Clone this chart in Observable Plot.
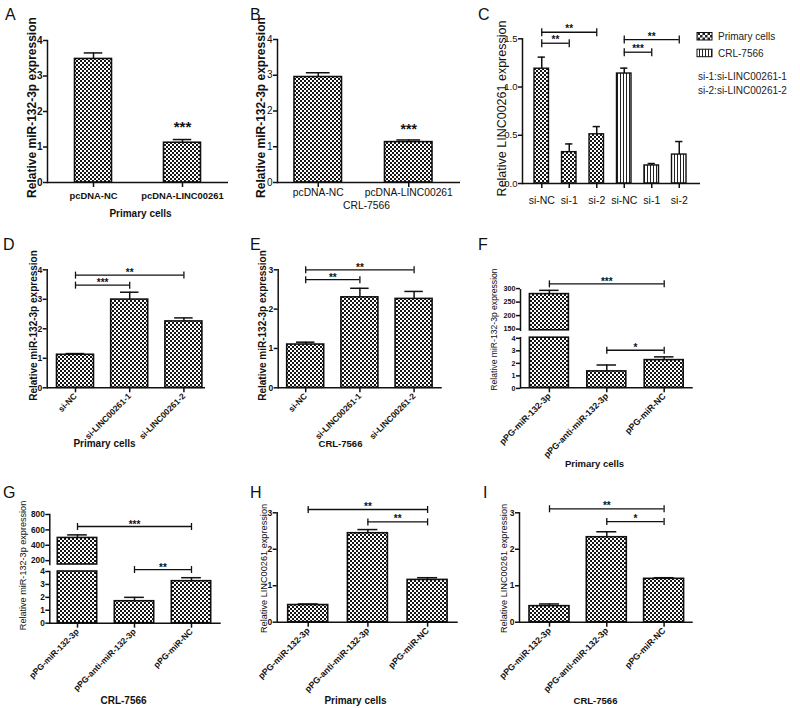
<!DOCTYPE html>
<html><head><meta charset="utf-8">
<script src="https://cdn.jsdelivr.net/npm/d3@7"></script>
<script src="https://cdn.jsdelivr.net/npm/@observablehq/plot@0.6"></script>
<style>
html,body{margin:0;padding:0;background:#fff;}
#fig{position:relative;width:800px;height:708px;overflow:hidden;background:#fff;}
.p{position:absolute;}
</style></head><body>
<svg width="0" height="0" style="position:absolute">
  <defs>
    <pattern id="checker" width="4" height="4" patternUnits="userSpaceOnUse">
      <rect width="4" height="4" fill="#fff"/>
      <rect width="2" height="2" fill="#151515"/>
      <rect x="2" y="2" width="2" height="2" fill="#151515"/>
    </pattern>
    <pattern id="checkerL" width="5" height="5" patternUnits="userSpaceOnUse">
      <rect width="5" height="5" fill="#fff"/>
      <rect width="2.5" height="2.5" fill="#222"/>
      <rect x="2.5" y="2.5" width="2.5" height="2.5" fill="#222"/>
    </pattern>
    <pattern id="vstripe" width="3" height="3" patternUnits="userSpaceOnUse">
      <rect width="3" height="3" fill="#fff"/>
      <rect width="1" height="3" fill="#222"/>
    </pattern>
  </defs>
</svg>
<div id="fig"></div>
<script>
// ================= DATA =================
// A
const aCats = ["pcDNA-NC", "pcDNA-LINC00261"];
const aMeans = [3.48, 1.12];
const aErrs = [0.17, 0.09];
const aStars = ["", "***"];
// B
const bCats = ["pcDNA-NC", "pcDNA-LINC00261"];
const bMeans = [2.95, 1.13];
const bErrs = [0.12, 0.06];
const bStars = ["", "***"];
// C
const cCats = ["si-NC", "si-1", "si-2"];
const cGroups = ["Primary cells", "CRL-7566"];
const cPrimary = [1.19, 0.325, 0.51];
const cPrimaryErr = [0.12, 0.085, 0.08];
const cCRL = [1.14, 0.187, 0.30];
const cCRLErr = [0.056, 0.02, 0.135];
const cBrackets = [
  {group: "Primary cells", from: "si-NC", to: "si-2", y: 1.568, label: "**"},
  {group: "Primary cells", from: "si-NC", to: "si-1", y: 1.454, label: "**"},
  {group: "CRL-7566", from: "si-NC", to: "si-2", y: 1.492, label: "**"},
  {group: "CRL-7566", from: "si-NC", to: "si-1", y: 1.361, label: "***"}
];
const cNotes = ["si-1:si-LINC00261-1", "si-2:si-LINC00261-2"];
// D
const dCats = ["si-NC", "si-LINC00261-1", "si-LINC00261-2"];
const dMeans = [1.12, 2.99, 2.25];
const dErrs = [0.04, 0.25, 0.12];
const dBrackets = [
  {from: "si-NC", to: "si-LINC00261-2", y: 3.82, label: "**"},
  {from: "si-NC", to: "si-LINC00261-1", y: 3.48, label: "***"}
];
// E
const eCats = ["si-NC", "si-LINC00261-1", "si-LINC00261-2"];
const eMeans = [1.10, 2.30, 2.26];
const eErrs = [0.06, 0.23, 0.19];
const eBrackets = [
  {from: "si-NC", to: "si-LINC00261-2", y: 3.0, label: "**"},
  {from: "si-NC", to: "si-LINC00261-1", y: 2.75, label: "**"}
];
// F
const fCats = ["pPG-miR-132-3p", "pPG-anti-miR-132-3p", "pPG-miR-NC"];
const fMeans = [284, 1.31, 2.21];
const fErrs = [14, 0.51, 0.26];
const fBrackets = [
  {from: "pPG-miR-132-3p", to: "pPG-miR-NC", y: 322, label: "***", seg: 1},
  {from: "pPG-anti-miR-132-3p", to: "pPG-miR-NC", y: 3.0, label: "*", seg: 0}
];
// G
const gCats = ["pPG-miR-132-3p", "pPG-anti-miR-132-3p", "pPG-miR-NC"];
const gMeans = [495, 1.7, 3.25];
const gErrs = [40, 0.3, 0.27];
const gBrackets = [
  {from: "pPG-miR-132-3p", to: "pPG-miR-NC", y: 644, label: "***", seg: 1},
  {from: "pPG-anti-miR-132-3p", to: "pPG-miR-NC", y: 4.15, label: "**", seg: 0}
];
// H
const hCats = ["pPG-miR-132-3p", "pPG-anti-miR-132-3p", "pPG-miR-NC"];
const hMeans = [0.47, 2.44, 1.16];
const hErrs = [0.03, 0.10, 0.06];
const hBrackets = [
  {from: "pPG-miR-132-3p", to: "pPG-miR-NC", y: 3.09, label: "**"},
  {from: "pPG-anti-miR-132-3p", to: "pPG-miR-NC", y: 2.75, label: "**"}
];
// I
const iCats = ["pPG-miR-132-3p", "pPG-anti-miR-132-3p", "pPG-miR-NC"];
const iMeans = [0.44, 2.33, 1.19];
const iErrs = [0.06, 0.15, 0.03];
const iBrackets = [
  {from: "pPG-miR-132-3p", to: "pPG-miR-NC", y: 3.11, label: "**"},
  {from: "pPG-anti-miR-132-3p", to: "pPG-miR-NC", y: 2.76, label: "*"}
];
// tick values
const ticks0to4 = [0, 1, 2, 3, 4];
const ticks0to3 = [0, 1, 2, 3];
const ticksC = [0, 0.5, 1.0, 1.5];
const ticksFUpper = [150, 200, 250, 300];
const ticksGUpper = [200, 400, 600, 800];

// ================= RENDERING =================
const INK = "#111";
const SANS = '"Liberation Sans",Arial,Helvetica,sans-serif';
const fig = document.getElementById("fig");

const vbar = {draw(ctx, size) { const r = Math.sqrt(size / Math.PI); ctx.moveTo(0, -r); ctx.lineTo(0, r); }};

function place(svg, left, top) {
  const div = document.createElement("div");
  div.className = "p";
  div.style.left = left + "px";
  div.style.top = top + "px";
  div.appendChild(svg);
  fig.appendChild(div);
}

function panel(cfg) {
  const keys = cfg.keys;
  const n = keys.length;
  const pIn = 1 - cfg.w / cfg.s;
  const outer = (cfg.ae - cfg.ax) - (cfg.s * (n - 1) + cfg.w);
  const xBase = {type: "band", domain: keys, paddingInner: pIn, paddingOuter: outer / (2 * cfg.s),
                 align: (cfg.first - cfg.ax) / outer, round: false};
  const data = keys.map((k, i) => ({key: k, v: cfg.means[i], e: cfg.errs[i],
    pat: cfg.patterns ? cfg.patterns[i] : "checker", star: cfg.stars ? cfg.stars[i] : ""}));
  const mL = cfg.ax - cfg.left, mR = cfg.left + cfg.width - cfg.ae;
  cfg.segments.forEach((seg, si) => {
    const isBase = si === 0;
    const mT = seg.yHi - seg.top, mB = seg.top + seg.height - seg.yLo;
    const inSeg = data.filter(d => d.v > seg.lo);
    const errD = inSeg.filter(d => d.v <= seg.hi);
    const marks = [];
    const pats = [...new Set(inSeg.map(d => d.pat))];
    for (const pat of pats) {
      marks.push(Plot.barY(inSeg.filter(d => d.pat === pat), {
        x: "key", y1: seg.lo, y2: d => Math.min(d.v, seg.hi),
        fill: `url(#${pat})`, stroke: INK, strokeWidth: cfg.barStroke || 1.6
      }));
    }
    marks.push(Plot.ruleX(errD, {x: "key", y1: "v", y2: d => d.v + d.e, stroke: INK, strokeWidth: 1.5}));
    marks.push(Plot.tickY(errD, {x: "key", y: d => d.v + d.e, insetLeft: cfg.w / 4, insetRight: cfg.w / 4,
      stroke: INK, strokeWidth: 1.5}));
    const starD = errD.filter(d => d.star);
    if (starD.length) marks.push(Plot.text(starD, {x: "key", y: d => d.v + d.e, text: "star",
      dy: cfg.starDy, fontSize: cfg.starSize, fontWeight: "bold", fontFamily: SANS, fill: INK, lineAnchor: "middle"}));
    const br = (cfg.brackets || []).filter(b => (b.seg || 0) === si);
    if (br.length) {
      marks.push(Plot.ruleY(br, {x1: "from", x2: "to", y: "y", insetLeft: cfg.w / 2, insetRight: cfg.w / 2,
        stroke: INK, strokeWidth: 1.3}));
      const ends = br.flatMap(b => [{key: b.from, y: b.y}, {key: b.to, y: b.y}]);
      marks.push(Plot.dot(ends, {x: "key", y: "y", r: cfg.endR || 3.5, symbol: vbar, stroke: INK,
        strokeWidth: 1.3, fill: "none"}));
      for (const b of br) {
        const di = keys.indexOf(b.to) - keys.indexOf(b.from);
        marks.push(Plot.text([b], {x: "from", y: "y", text: "label", dx: di * cfg.s / 2, dy: cfg.bStarDy,
          fontSize: cfg.bStarSize, fontWeight: "bold", fontFamily: SANS, fill: INK, lineAnchor: "middle"}));
      }
    }
    marks.push(Plot.frame({anchor: "left", stroke: INK, strokeWidth: 1.5}));
    if (isBase) marks.push(Plot.ruleY([seg.lo], {stroke: INK, strokeWidth: 1.5}));
    marks.push(Plot.axisY({ticks: seg.ticks, tickFormat: seg.fmt || (d => d), tickSize: 4, tickPadding: 1,
      label: null, fontSize: seg.tickSize || cfg.yTickSize, fontWeight: cfg.yTickWeight, fontFamily: SANS,
      dy: seg.labelDy || 0, strokeWidth: 1.5, stroke: INK, fill: INK}));
    if (isBase) {
      marks.push(Plot.axisX({tickSize: 5, tickPadding: cfg.xPad, tickRotate: cfg.rot || 0,
        tickFormat: cfg.fmtX || (d => d), label: null, fontSize: cfg.xTickSize, fontWeight: cfg.xTickWeight,
        fontFamily: SANS, strokeWidth: 1.5, stroke: INK, fill: INK}));
      marks.push(Plot.text([cfg.yTitle], {frameAnchor: "left", rotate: -90, dx: cfg.yTitleX - cfg.ax,
        dy: cfg.yTitleY - (seg.yHi + seg.yLo) / 2, fontSize: cfg.yTitleSize, fontWeight: cfg.yTitleWeight,
        fontFamily: SANS, fill: INK, lineAnchor: "middle", textAnchor: "middle"}));
      if (cfg.xTitle) marks.push(Plot.text([cfg.xTitle], {frameAnchor: "bottom", dx: cfg.xTitleX - (cfg.ax + cfg.ae) / 2,
        dy: cfg.xTitleY - seg.yLo, fontSize: cfg.xTitleSize, fontWeight: cfg.xTitleWeight,
        fontFamily: SANS, fill: INK, lineAnchor: "middle", textAnchor: "middle"}));
    }
    const svg = Plot.plot({
      width: cfg.width, height: seg.height,
      marginLeft: mL, marginRight: mR, marginTop: mT, marginBottom: mB,
      x: isBase ? xBase : {...xBase, axis: null},
      y: {domain: [seg.lo, seg.hi]},
      style: {fontFamily: SANS, background: "transparent", overflow: "visible", color: INK},
      marks
    });
    place(svg, cfg.left, seg.top);
  });
}

// ---------- A ----------
panel({left: 0, width: 240, ax: 47, ae: 228, first: 74.5, w: 37, s: 89,
  keys: aCats, means: aMeans, errs: aErrs, stars: aStars, starDy: -12, starSize: 15,
  segments: [{lo: 0, hi: 4, yLo: 182, yHi: 40, top: 0, height: 230, ticks: ticks0to4}],
  yTickSize: 10, yTickWeight: "bold", xTickSize: 9.4, xTickWeight: "bold", xPad: 5,
  yTitle: "Relative miR-132-3p expression", yTitleX: 32, yTitleY: 107, yTitleSize: 12, yTitleWeight: "bold",
  xTitle: "Primary cells", xTitleX: 140, xTitleY: 213, xTitleSize: 10, xTitleWeight: "bold"});

// ---------- B ----------
panel({left: 240, width: 230, ax: 277, ae: 460, first: 294, w: 47.5, s: 90.5,
  keys: bCats, means: bMeans, errs: bErrs, stars: bStars, starDy: -10, starSize: 14,
  segments: [{lo: 0, hi: 4, yLo: 182, yHi: 39, top: 0, height: 230, ticks: ticks0to4}],
  yTickSize: 10, yTickWeight: "normal", xTickSize: 10.3, xTickWeight: "normal", xPad: 1,
  yTitle: "Relative miR-132-3p expression", yTitleX: 261, yTitleY: 107, yTitleSize: 12, yTitleWeight: "bold",
  xTitle: "CRL-7566", xTitleX: 366, xTitleY: 205, xTitleSize: 10.3, xTitleWeight: "normal"});

// ---------- C ----------
{
  const keys = [], means = [], errs = [], patterns = [];
  cGroups.forEach((g, gi) => cCats.forEach((c, ci) => {
    keys.push(g + "|" + c);
    means.push(gi === 0 ? cPrimary[ci] : cCRL[ci]);
    errs.push(gi === 0 ? cPrimaryErr[ci] : cCRLErr[ci]);
    patterns.push(gi === 0 ? "checker" : "vstripe");
  }));
  const brackets = cBrackets.map(b => ({...b, from: b.group + "|" + b.from, to: b.group + "|" + b.to}));
  panel({left: 470, width: 330, ax: 522, ae: 700, first: 534, w: 14.5, s: 27.5,
    keys, means, errs, patterns, brackets, bStarDy: -3, bStarSize: 10, endR: 4, barStroke: 1.4,
    segments: [{lo: 0, hi: 1.5, yLo: 183, yHi: 38.3, top: 0, height: 230, ticks: ticksC, fmt: d3.format(".1f")}],
    yTickSize: 9.5, yTickWeight: "normal", xTickSize: 10.5, xTickWeight: "normal", xPad: 8,
    fmtX: k => k.split("|")[1],
    yTitle: "Relative LINC00261 expression", yTitleX: 501, yTitleY: 108, yTitleSize: 12.5, yTitleWeight: "normal",
    xTitle: ""});
}

// ---------- D ----------
panel({left: 0, width: 240, ax: 46.7, ae: 205, first: 56.5, w: 37, s: 54.2,
  keys: dCats, means: dMeans, errs: dErrs, brackets: dBrackets, bStarDy: -2, bStarSize: 10,
  segments: [{lo: 0, hi: 4, yLo: 387.3, yHi: 269.3, top: 230, height: 240, ticks: ticks0to4}],
  yTickSize: 8.5, yTickWeight: "bold", xTickSize: 8.5, xTickWeight: "bold", xPad: 2, rot: -45,
  yTitle: "Relative miR-132-3p expression", yTitleX: 33, yTitleY: 325, yTitleSize: 10, yTitleWeight: "bold",
  xTitle: "Primary cells", xTitleX: 104, xTitleY: 443, xTitleSize: 10, xTitleWeight: "bold"});

// ---------- E ----------
panel({left: 240, width: 240, ax: 277.7, ae: 441.7, first: 286.7, w: 37, s: 54.2,
  keys: eCats, means: eMeans, errs: eErrs, brackets: eBrackets, bStarDy: -2, bStarSize: 10,
  segments: [{lo: 0, hi: 3, yLo: 387.3, yHi: 269.3, top: 230, height: 240, ticks: ticks0to3}],
  yTickSize: 8.5, yTickWeight: "bold", xTickSize: 8.5, xTickWeight: "bold", xPad: 2, rot: -45,
  yTitle: "Relative miR-132-3p expression", yTitleX: 262, yTitleY: 325, yTitleSize: 10, yTitleWeight: "bold",
  xTitle: "CRL-7566", xTitleX: 340, xTitleY: 443, xTitleSize: 9.5, xTitleWeight: "bold"});

// ---------- F ----------
panel({left: 480, width: 240, ax: 520, ae: 692.7, first: 529.4, w: 39, s: 57.4,
  keys: fCats, means: fMeans, errs: fErrs, brackets: fBrackets, bStarDy: -2, bStarSize: 10,
  segments: [
    {lo: 0, hi: 4, yLo: 387.3, yHi: 337.2, top: 230, height: 240, ticks: ticks0to4, tickSize: 7.2, labelDy: 0.6},
    {lo: 150, hi: 300, yLo: 329.8, yHi: 289.3, top: 230, height: 110, ticks: ticksFUpper, tickSize: 7.2, labelDy: -1.2}
  ],
  yTickSize: 7.2, yTickWeight: "bold", xTickSize: 8.8, xTickWeight: "bold", xPad: 2, rot: -45,
  yTitle: "Relative miR-132-3p expression", yTitleX: 494, yTitleY: 329, yTitleSize: 8.6, yTitleWeight: "normal",
  xTitle: "Primary cells", xTitleX: 594, xTitleY: 463, xTitleSize: 9.5, xTitleWeight: "bold"});

// ---------- G ----------
panel({left: 0, width: 240, ax: 49.3, ae: 220.7, first: 57.3, w: 39.4, s: 57,
  keys: gCats, means: gMeans, errs: gErrs, brackets: gBrackets, bStarDy: -2, bStarSize: 10,
  segments: [
    {lo: 0, hi: 4, yLo: 622.7, yHi: 571, top: 470, height: 238, ticks: ticks0to4},
    {lo: 150, hi: 800, yLo: 564, yHi: 514, top: 470, height: 110, ticks: ticksGUpper}
  ],
  yTickSize: 8.3, yTickWeight: "bold", xTickSize: 8.5, xTickWeight: "bold", xPad: 2, rot: -45,
  yTitle: "Relative miR-132-3p expression", yTitleX: 23, yTitleY: 565, yTitleSize: 9.1, yTitleWeight: "normal",
  xTitle: "CRL-7566", xTitleX: 123, xTitleY: 700, xTitleSize: 10, xTitleWeight: "bold"});

// ---------- H ----------
panel({left: 240, width: 240, ax: 276.7, ae: 457.7, first: 287.7, w: 40, s: 59.7,
  keys: hCats, means: hMeans, errs: hErrs, brackets: hBrackets, bStarDy: -3, bStarSize: 10,
  segments: [{lo: 0, hi: 3, yLo: 621.7, yHi: 512.3, top: 470, height: 238, ticks: ticks0to3}],
  yTickSize: 8.5, yTickWeight: "bold", xTickSize: 8.8, xTickWeight: "bold", xPad: 2, rot: -45,
  yTitle: "Relative LINC00261 expression", yTitleX: 263.5, yTitleY: 568, yTitleSize: 9.2, yTitleWeight: "normal",
  xTitle: "Primary cells", xTitleX: 355, xTitleY: 700, xTitleSize: 10, xTitleWeight: "bold"});

// ---------- I ----------
panel({left: 480, width: 240, ax: 519, ae: 692.7, first: 529, w: 40, s: 57.3,
  keys: iCats, means: iMeans, errs: iErrs, brackets: iBrackets, bStarDy: -3, bStarSize: 10,
  segments: [{lo: 0, hi: 3, yLo: 621.7, yHi: 512.3, top: 470, height: 238, ticks: ticks0to3}],
  yTickSize: 8.5, yTickWeight: "bold", xTickSize: 8.8, xTickWeight: "bold", xPad: 2, rot: -45,
  yTitle: "Relative LINC00261 expression", yTitleX: 504, yTitleY: 568, yTitleSize: 9.2, yTitleWeight: "normal",
  xTitle: "CRL-7566", xTitleX: 595, xTitleY: 700, xTitleSize: 9.5, xTitleWeight: "bold"});

// ---------- overlay: panel letters and legend of C ----------
const letters = [
  {t: "A", x: 5, y: 20}, {t: "B", x: 250, y: 20}, {t: "C", x: 478, y: 20},
  {t: "D", x: 3, y: 250}, {t: "E", x: 250, y: 250}, {t: "F", x: 478, y: 250},
  {t: "G", x: 3, y: 498}, {t: "H", x: 250, y: 498}, {t: "I", x: 483, y: 498}
];
const ov = d3.select(fig).append("svg").attr("class", "p").style("left", "0px").style("top", "0px")
  .attr("width", 800).attr("height", 708).style("overflow", "visible");
ov.selectAll("text.letter").data(letters).join("text").attr("class", "letter")
  .attr("x", d => d.x).attr("y", d => d.y).attr("font-family", SANS).attr("font-size", 16).attr("fill", INK)
  .text(d => d.t);
const leg = ov.append("g").attr("font-family", SANS).attr("font-size", 10).attr("fill", "#222");
const legPats = ["checkerL", "vstripe"];
cGroups.forEach((g, i) => {
  leg.append("rect").attr("x", 697).attr("y", 32.5 + i * 16.7).attr("width", 15).attr("height", 7.5)
    .attr("fill", `url(#${legPats[i]})`).attr("stroke", INK).attr("stroke-width", 1);
  leg.append("text").attr("x", 718).attr("y", 40 + i * 16.7).text(g);
});
cNotes.forEach((t, i) => leg.append("text").attr("x", 698).attr("y", 80.3 + i * 13.4).text(t));
</script>
</body></html>
